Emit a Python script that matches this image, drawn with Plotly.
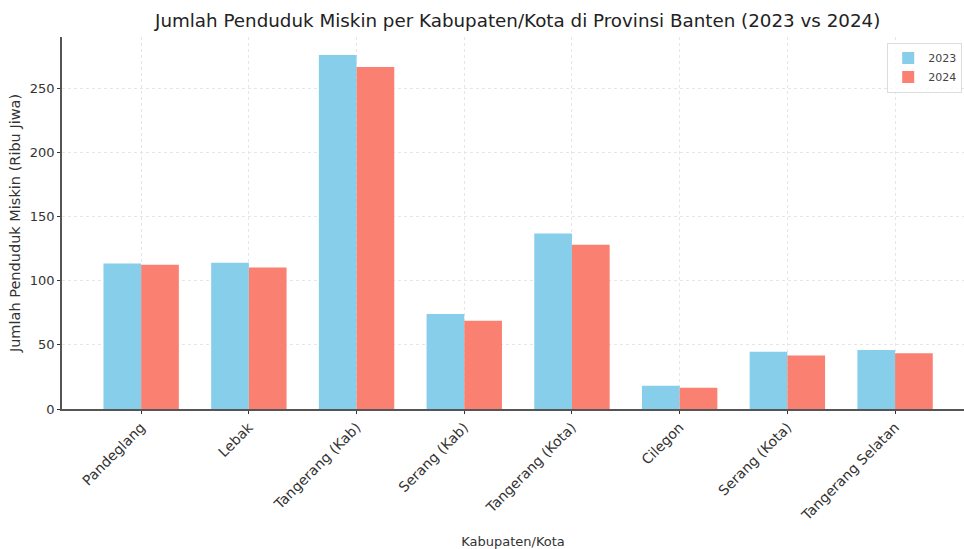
import plotly.graph_objects as go

categories = ["Pandeglang", "Lebak", "Tangerang (Kab)", "Serang (Kab)", "Tangerang (Kota)",
              "Cilegon", "Serang (Kota)", "Tangerang Selatan"]
values_2023 = [113.5, 114.0, 276.0, 74.0, 136.8, 18.2, 44.6, 46.0]
values_2024 = [112.4, 110.3, 266.6, 68.8, 128.0, 16.6, 41.8, 43.4]
y_ticks = [0, 50, 100, 150, 200, 250]

font = "DejaVu Sans"
fig = go.Figure()
fig.add_trace(go.Bar(x=categories, y=values_2023, name="2023", marker_color="#87CEEB",
                     marker_line_width=0))
fig.add_trace(go.Bar(x=categories, y=values_2024, name="2024", marker_color="#FA8072",
                     marker_line_width=0))

fig.update_layout(
    width=964, height=549,
    margin=dict(l=62, r=0, t=37, b=140),
    paper_bgcolor="white", plot_bgcolor="white",
    barmode="group", bargap=0.3, bargroupgap=0,
    font=dict(family=font, color="#333333"),
    title=dict(text="Jumlah Penduduk Miskin per Kabupaten/Kota di Provinsi Banten (2023 vs 2024)",
               x=0.537, xanchor="center", y=0.963, yanchor="middle",
               font=dict(size=18.3, color="#222222", family=font)),
    legend=dict(x=0.998, y=0.985, xanchor="right", yanchor="top",
                bordercolor="#dddddd", borderwidth=1, bgcolor="rgba(255,255,255,0.8)",
                font=dict(size=11, color="#444444")),
    showlegend=True,
)
fig.update_xaxes(
    range=[-0.735, 7.64], showline=True, linecolor="#555555", linewidth=1.5,
    showgrid=True, gridcolor="#e6e6e6", griddash="dot", gridwidth=1,
    ticks="outside", ticklen=3, tickcolor="#333333", tickangle=-45,
    tickfont=dict(size=14, color="#333333"),
    title=dict(text="Kabupaten/Kota", font=dict(size=13, color="#333333"), standoff=16),
)
fig.update_yaxes(
    range=[0, 290], tickvals=y_ticks, showline=True, linecolor="#555555", linewidth=1.5,
    showgrid=True, gridcolor="#e6e6e6", griddash="dot", gridwidth=1,
    ticks="outside", ticklen=3, tickcolor="#333333", zeroline=False,
    tickfont=dict(size=13, color="#333333"),
    title=dict(text="Jumlah Penduduk Miskin (Ribu Jiwa)", font=dict(size=14.5, color="#333333"),
               standoff=6),
)
fig.write_html("out.html")
